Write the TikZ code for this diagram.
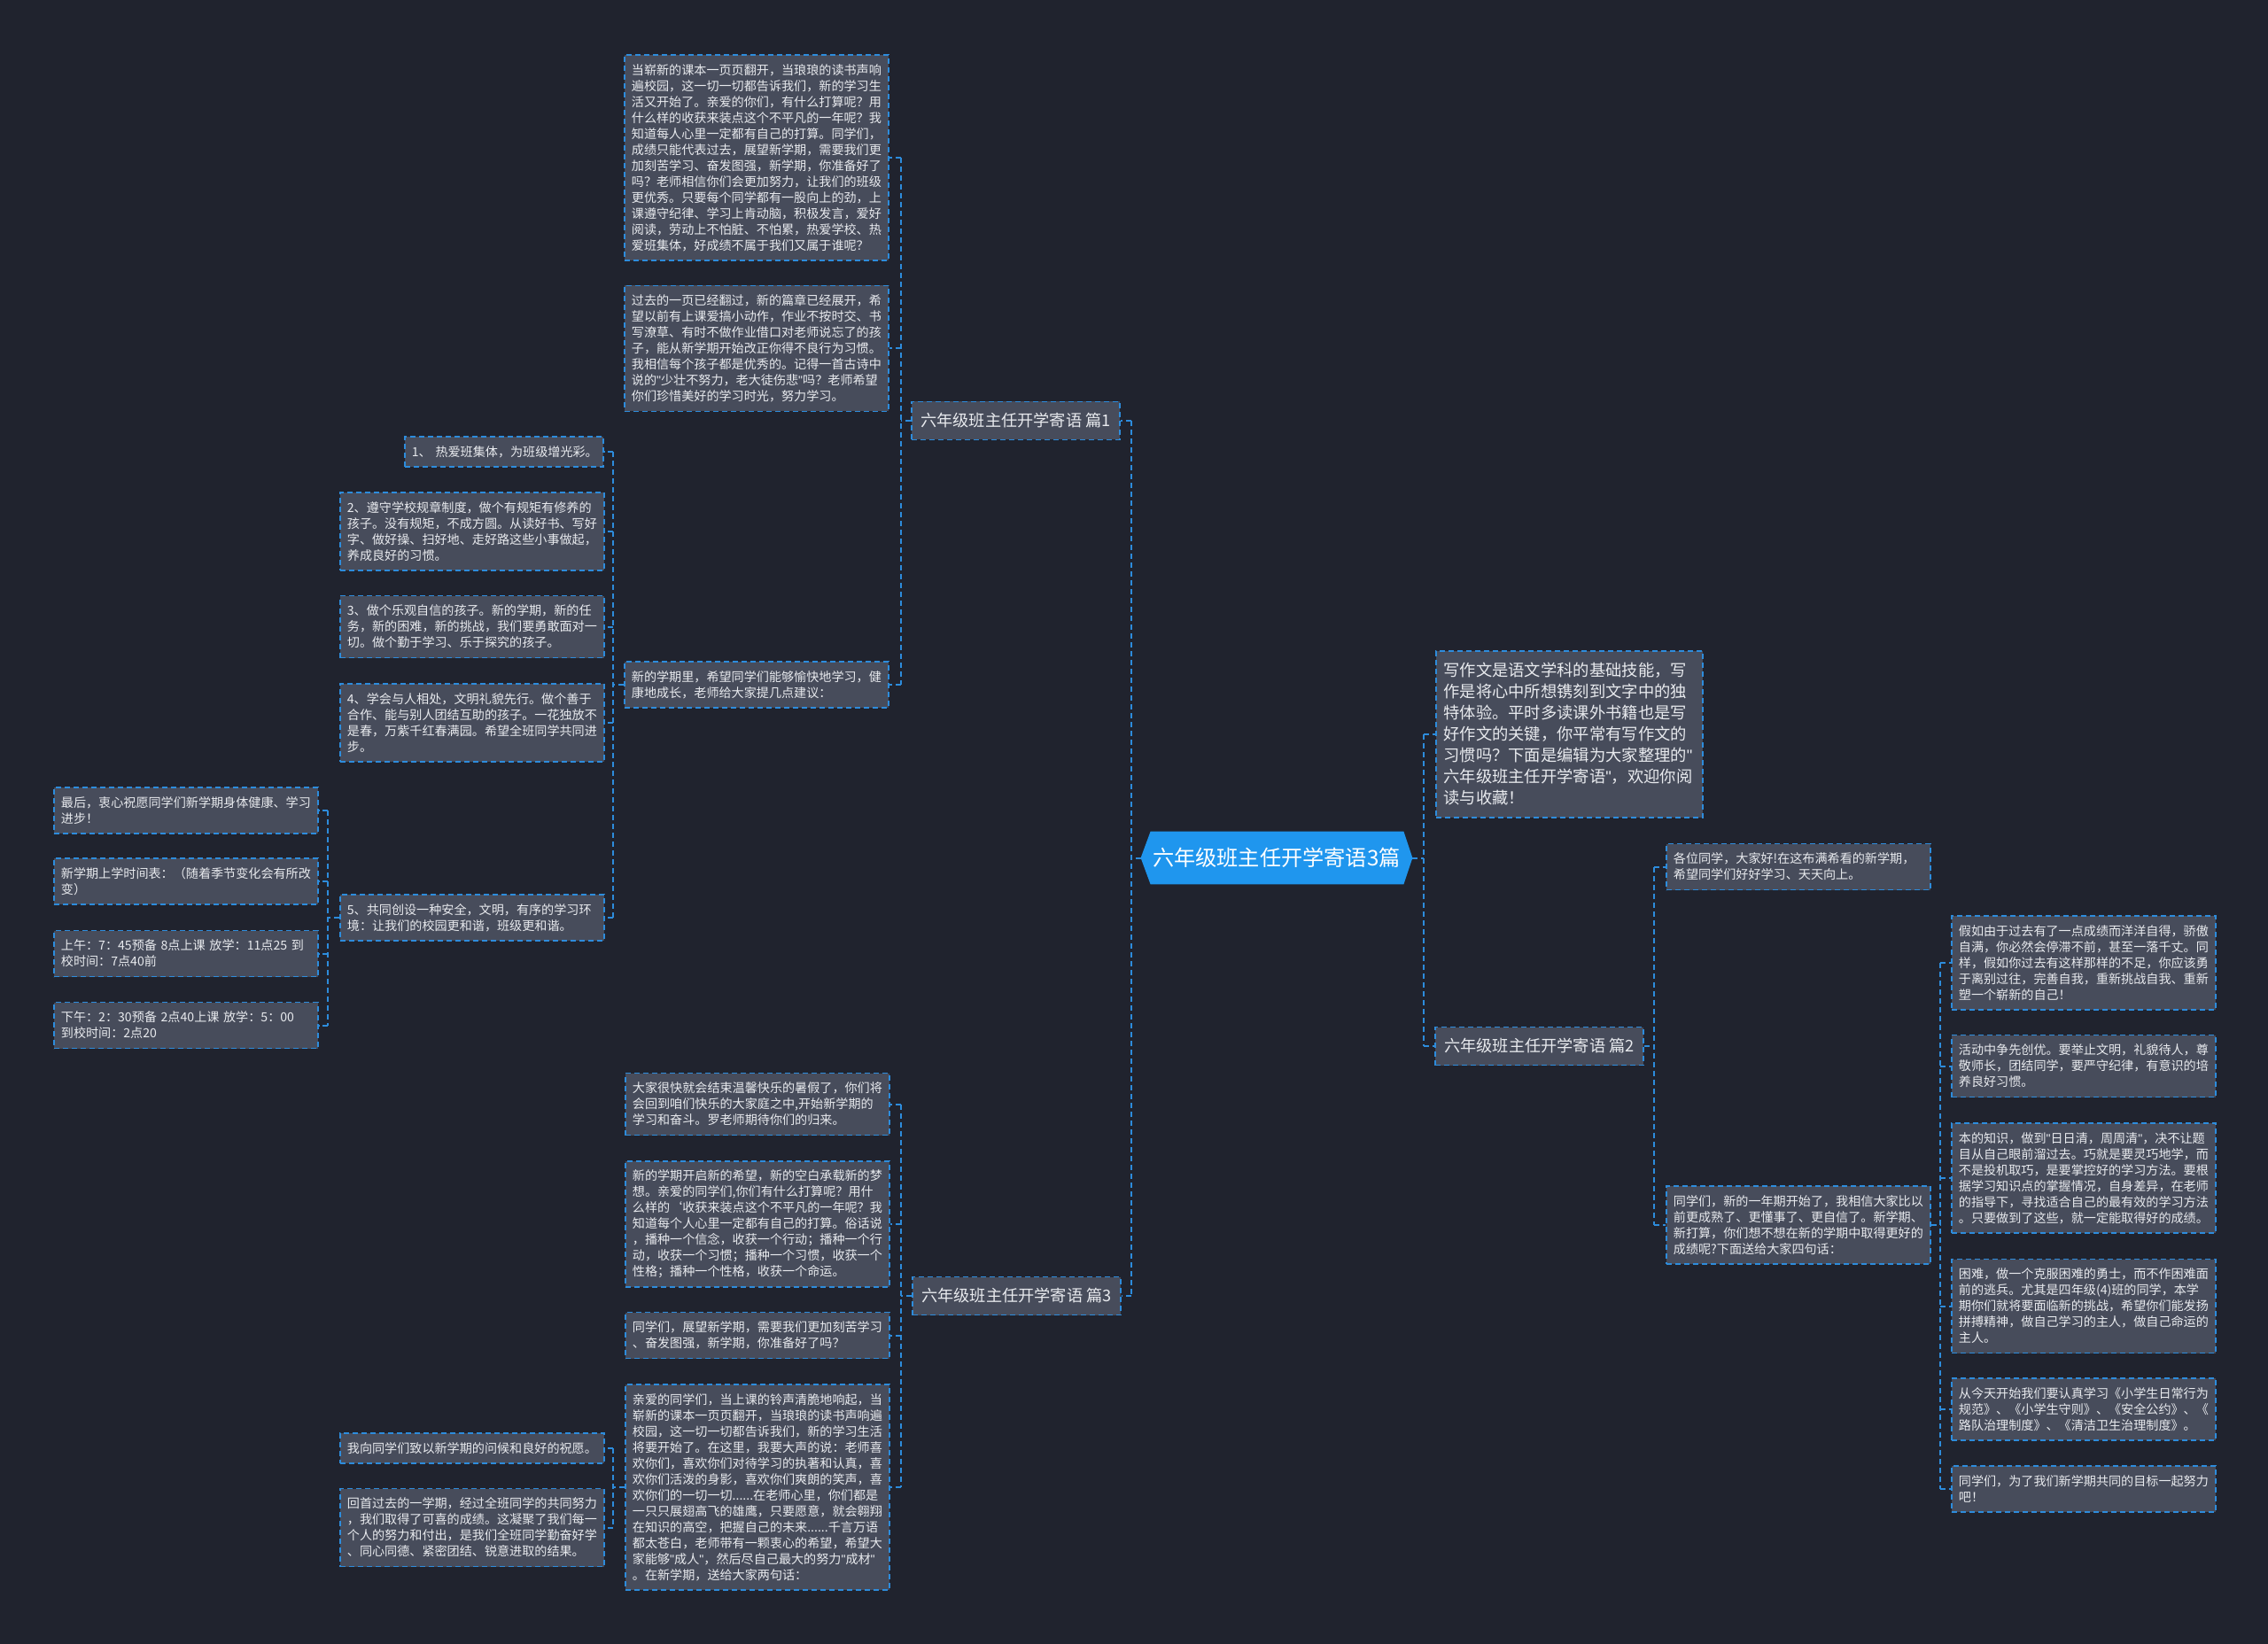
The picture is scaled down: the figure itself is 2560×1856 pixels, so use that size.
\documentclass[tikz,border=0pt]{standalone}
\usepackage{fontspec}
\setmainfont{Noto Sans CJK SC}
\newfontfamily\qf{Liberation Sans}
\newcommand\qq{{\qf"}}
\usetikzlibrary{backgrounds}
\definecolor{bgc}{HTML}{20232E}
\definecolor{boxc}{HTML}{474C5B}
\definecolor{linec}{HTML}{2D8CDC}
\definecolor{txtc}{HTML}{E8EAEE}
\definecolor{rootc}{HTML}{1F96EE}
\tikzset{
  conn/.style={draw=linec, line width=1pt, dash pattern=on 3pt off 2pt},
  sbox/.style={draw=linec, fill=boxc, line width=0.9pt, dash pattern=on 3pt off 2pt,
    text=txtc, font=\fontsize{7.05pt}{9pt}\selectfont, text width=141pt, align=left,
    inner xsep=4pt, inner ysep=2pt, minimum height=#1*9pt+8pt, anchor=west},
  nbox/.style={sbox=#1, text width=104pt},
  ibox/.style={draw=linec, fill=boxc, line width=0.9pt, dash pattern=on 3pt off 2pt,
    text=txtc, font=\fontsize{9.15pt}{12pt}\selectfont, text width=142pt, align=left,
    inner xsep=4.25pt, inner ysep=2pt, minimum height=94pt, anchor=west},
  bbox/.style={draw=linec, fill=boxc, line width=0.9pt, dash pattern=on 3pt off 2pt,
    text=txtc, font=\fontsize{9.1pt}{11pt}\selectfont, minimum width=117.5pt,
    minimum height=21.5pt, inner sep=0pt, anchor=west},
  rootnode/.style={text=white, font=\fontsize{12.1pt}{14pt}\selectfont,
    minimum width=153pt, minimum height=29.5pt, inner sep=0pt}
}
\newcommand\grpL[5]{%
  \coordinate (bx) at (#2,0);
  \draw[conn] (#1.west) -- (bx |- #1.west);
  \draw[conn] (bx |- #3.east) -- (bx |- #4.east);
  \foreach \nm in {#5}{\draw[conn] (bx |- \nm.east) -- (\nm.east);}
}
\newcommand\grpR[5]{%
  \coordinate (bx) at (#2,0);
  \draw[conn] (#1.east) -- (bx |- #1.east);
  \draw[conn] (bx |- #3.west) -- (bx |- #4.west);
  \foreach \nm in {#5}{\draw[conn] (bx |- \nm.west) -- (\nm.west);}
}
\begin{document}
\begin{tikzpicture}[x=0.5pt,y=-0.5pt]
\begin{scope}[on background layer]
\fill[bgc] (0,0) rectangle (2560,1856);
\end{scope}
\useasboundingbox (0,0) rectangle (2560,1856);

% root
\node[rootnode] (root) at (1441,968.5) {六年级班主任开学寄语3篇};
\begin{scope}[on background layer]
\fill[rootc] (root.west) -- ([xshift=5.5pt]root.north west) -- ([xshift=-5pt]root.north east)
  -- (root.east) -- ([xshift=-5pt]root.south east) -- ([xshift=5.5pt]root.south west) -- cycle;
\end{scope}

% branches
\node[bbox] (p1) at (1028,475) {六年级班主任开学寄语 篇1};
\node[bbox] (p3) at (1029,1463) {六年级班主任开学寄语 篇3};
\node[bbox] (p2) at (1619,1181) {六年级班主任开学寄语 篇2};

% intro
\node[ibox] (intro) at (1620,829) {写作文是语文学科的基础技能，写\\作是将心中所想镌刻到文字中的独\\特体验。平时多读课外书籍也是写\\好作文的关键，你平常有写作文的\\习惯吗？下面是编辑为大家整理的\qq\\六年级班主任开学寄语\qq，欢迎你阅\\读与收藏！};

% A group
\node[sbox=12] (a1) at (704,178) {当崭新的课本一页页翻开，当琅琅的读书声响\\遍校园，这一切一切都告诉我们，新的学习生\\活又开始了。亲爱的你们，有什么打算呢？用\\什么样的收获来装点这个不平凡的一年呢？我\\知道每人心里一定都有自己的打算。同学们，\\成绩只能代表过去，展望新学期，需要我们更\\加刻苦学习、奋发图强，新学期，你准备好了\\吗？老师相信你们会更加努力，让我们的班级\\更优秀。只要每个同学都有一股向上的劲，上\\课遵守纪律、学习上肯动脑，积极发言，爱好\\阅读，劳动上不怕脏、不怕累，热爱学校、热\\爱班集体，好成绩不属于我们又属于谁呢？};
\node[sbox=7] (a2) at (704,393.5) {过去的一页已经翻过，新的篇章已经展开，希\\望以前有上课爱搞小动作，作业不按时交、书\\写潦草、有时不做作业借口对老师说忘了的孩\\子，能从新学期开始改正你得不良行为习惯。\\我相信每个孩子都是优秀的。记得一首古诗中\\说的\qq 少壮不努力，老大徒伤悲\qq 吗？老师希望\\你们珍惜美好的学习时光，努力学习。};
\node[sbox=2] (a3) at (704,773) {新的学期里，希望同学们能够愉快地学习，健\\康地成长，老师给大家提几点建议：};

% B group
\node[nbox=1] (b1) at (456,510) {1、~热爱班集体，为班级增光彩。};
\node[sbox=4] (b2) at (383,600) {2、遵守学校规章制度，做个有规矩有修养的\\孩子。没有规矩，不成方圆。从读好书、写好\\字、做好操、扫好地、走好路这些小事做起，\\养成良好的习惯。};
\node[sbox=3] (b3) at (383,707.5) {3、做个乐观自信的孩子。新的学期，新的任\\务，新的困难，新的挑战，我们要勇敢面对一\\切。做个勤于学习、乐于探究的孩子。};
\node[sbox=4] (b4) at (383,816) {4、学会与人相处，文明礼貌先行。做个善于\\合作、能与别人团结互助的孩子。一花独放不\\是春，万紫千红春满园。希望全班同学共同进\\步。};
\node[sbox=2] (b5) at (383,1036) {5、共同创设一种安全，文明，有序的学习环\\境：让我们的校园更和谐，班级更和谐。};

% C group
\node[sbox=2] (c1) at (60,915) {最后，衷心祝愿同学们新学期身体健康、学习\\进步！};
\node[sbox=2] (c2) at (60,995) {新学期上学时间表：（随着季节变化会有所改\\变）};
\node[sbox=2] (c3) at (60,1076.5) {上午：7：45预备~8点上课~放学：11点25~到\\校时间：7点40前};
\node[sbox=2] (c4) at (60,1157.5) {下午：2：30预备~2点40上课~放学：5：00\\到校时间：2点20};

% D group
\node[sbox=3] (d1) at (705,1246.5) {大家很快就会结束温馨快乐的暑假了，你们将\\会回到咱们快乐的大家庭之中,开始新学期的\\学习和奋斗。罗老师期待你们的归来。};
\node[sbox=7] (d2) at (705,1382) {新的学期开启新的希望，新的空白承载新的梦\\想。亲爱的同学们,你们有什么打算呢？用什\\么样的\char"60 收获来装点这个不平凡的一年呢？我\\知道每个人心里一定都有自己的打算。俗话说\\，播种一个信念，收获一个行动；播种一个行\\动，收获一个习惯；播种一个习惯，收获一个\\性格；播种一个性格，收获一个命运。};
\node[sbox=2] (d3) at (705,1507.5) {同学们，展望新学期，需要我们更加刻苦学习\\、奋发图强，新学期，你准备好了吗？};
\node[sbox=12] (d4) at (705,1679) {亲爱的同学们，当上课的铃声清脆地响起，当\\崭新的课本一页页翻开，当琅琅的读书声响遍\\校园，这一切一切都告诉我们，新的学习生活\\将要开始了。在这里，我要大声的说：老师喜\\欢你们，喜欢你们对待学习的执著和认真，喜\\欢你们活泼的身影，喜欢你们爽朗的笑声，喜\\欢你们的一切一切......在老师心里，你们都是\\一只只展翅高飞的雄鹰，只要愿意，就会翱翔\\在知识的高空，把握自己的未来......千言万语\\都太苍白，老师带有一颗衷心的希望，希望大\\家能够\qq 成人\qq，然后尽自己最大的努力\qq 成材\qq\\。在新学期，送给大家两句话：};

% E group
\node[sbox=1] (e1) at (383,1635) {我向同学们致以新学期的问候和良好的祝愿。};
\node[sbox=4] (e2) at (383,1724.5) {回首过去的一学期，经过全班同学的共同努力\\，我们取得了可喜的成绩。这凝聚了我们每一\\个人的努力和付出，是我们全班同学勤奋好学\\、同心同德、紧密团结、锐意进取的结果。};

% F group
\node[sbox=2] (f1) at (1880,978.5) {各位同学，大家好!在这布满希看的新学期，\\希望同学们好好学习、天天向上。};
\node[sbox=4] (f2) at (1880,1383) {同学们，新的一年期开始了，我相信大家比以\\前更成熟了、更懂事了、更自信了。新学期、\\新打算，你们想不想在新的学期中取得更好的\\成绩呢?下面送给大家四句话：};

% G group
\node[sbox=5] (g1) at (2202,1087) {假如由于过去有了一点成绩而洋洋自得，骄傲\\自满，你必然会停滞不前，甚至一落千丈。同\\样，假如你过去有这样那样的不足，你应该勇\\于离别过往，完善自我，重新挑战自我、重新\\塑一个崭新的自己！};
\node[sbox=3] (g2) at (2202,1203.5) {活动中争先创优。要举止文明，礼貌待人，尊\\敬师长，团结同学，要严守纪律，有意识的培\\养良好习惯。};
\node[sbox=6] (g3) at (2202,1330) {本的知识，做到\qq 日日清，周周清\qq，决不让题\\目从自己眼前溜过去。巧就是要灵巧地学，而\\不是投机取巧，是要掌控好的学习方法。要根\\据学习知识点的掌握情况，自身差异，在老师\\的指导下，寻找适合自己的最有效的学习方法\\。只要做到了这些，就一定能取得好的成绩。};
\node[sbox=5] (g4) at (2202,1474.5) {困难，做一个克服困难的勇士，而不作困难面\\前的逃兵。尤其是四年级(4)班的同学，本学\\期你们就将要面临新的挑战，希望你们能发扬\\拼搏精神，做自己学习的主人，做自己命运的\\主人。};
\node[sbox=3] (g5) at (2202,1591) {从今天开始我们要认真学习《小学生日常行为\\规范》、《小学生守则》、《安全公约》、《\\路队治理制度》、《清洁卫生治理制度》。};
\node[sbox=2] (g6) at (2202,1681) {同学们，为了我们新学期共同的目标一起努力\\吧！};

% connectors
\grpL{root}{1277}{p1}{p3}{p1,p3}
\grpR{root}{1607}{intro}{p2}{intro,p2}
\grpL{p1}{1017}{a1}{a3}{a1,a2,a3}
\grpL{a3}{692}{b1}{b5}{b1,b2,b3,b4,b5}
\grpL{b5}{370}{c1}{c4}{c1,c2,c3,c4}
\grpL{p3}{1017}{d1}{d4}{d1,d2,d3,d4}
\grpL{d4}{692}{e1}{e2}{e1,e2}
\grpR{p2}{1867}{f1}{f2}{f1,f2}
\grpR{f2}{2190}{g1}{g6}{g1,g2,g3,g4,g5,g6}
\end{tikzpicture}
\end{document}
